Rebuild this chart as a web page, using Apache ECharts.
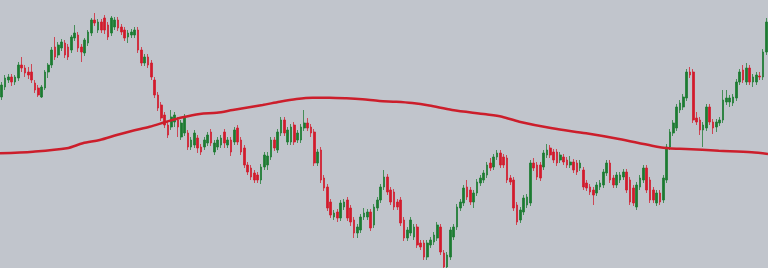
<!DOCTYPE html>
<html><head><meta charset="utf-8">
<script src="https://cdn.jsdelivr.net/npm/echarts@6/dist/echarts.min.js"></script>
<style>html,body{margin:0;padding:0;background:#c1c5cc;}#c{width:768px;height:268px;}</style>
</head><body><div id="c"></div>
<script>
const opens = [171,181,188,191,186,190,203,200,196,196,185,180,171,180,196,203,221,213,220,225,221,218,230,233,221,215,225,235,248,238,246,250,243,235,241,248,241,238,231,233,233,238,218,205,211,205,188,173,163,153,143,141,146,148,131,135,135,121,123,130,121,121,125,136,116,121,123,136,123,128,126,140,128,120,103,100,95,93,88,101,103,111,128,118,135,148,126,126,143,128,128,140,145,141,136,105,118,90,81,66,51,56,50,61,68,60,48,35,38,51,51,56,43,60,68,81,91,78,76,66,68,48,30,35,31,41,25,25,11,23,26,30,41,15,1,11,31,41,60,65,81,78,66,75,85,88,93,105,101,111,115,111,110,90,88,63,48,56,63,65,105,103,103,101,113,120,116,116,108,111,108,103,106,105,100,98,85,81,78,75,81,83,95,105,90,83,88,91,96,88,80,61,81,88,100,88,78,65,75,68,88,121,135,140,158,161,170,196,196,150,148,138,140,161,146,141,145,148,166,166,165,170,186,198,186,200,186,186,192,191,216];
const closes = [183,190,191,186,191,203,200,195,193,188,178,173,181,196,203,218,211,223,226,213,211,231,235,220,216,228,236,248,245,246,238,238,231,250,248,240,236,230,235,236,238,218,205,211,203,191,173,160,150,143,133,151,153,141,145,151,121,128,135,120,116,128,133,125,125,128,130,125,128,116,138,126,116,103,96,91,88,88,101,113,112,128,120,136,148,135,138,141,126,135,141,145,140,135,105,116,88,80,60,53,55,50,65,66,50,46,35,41,51,55,56,40,61,68,81,91,76,66,61,61,45,30,38,48,41,23,21,11,25,28,33,43,16,1,13,38,41,61,66,80,71,66,75,86,90,95,103,100,111,115,103,103,88,86,60,46,58,70,71,105,100,91,90,115,118,113,108,105,113,106,103,106,98,96,105,81,80,76,73,83,85,96,105,88,83,93,93,96,78,66,65,83,90,100,78,68,68,75,66,90,121,136,145,161,165,171,196,193,148,146,138,143,161,146,140,146,148,168,170,170,171,186,196,188,200,186,191,193,191,216,246];
const lows = [168,178,185,182,183,187,196,191,189,185,175,171,170,178,190,200,208,210,217,210,208,215,227,216,206,212,222,232,242,235,235,234,228,232,238,237,233,227,225,230,230,215,202,202,200,188,170,157,147,140,130,138,141,131,128,132,118,118,120,115,113,118,122,122,113,118,120,120,120,112,123,123,113,100,93,88,85,85,84,98,98,108,117,115,132,132,123,123,123,125,125,137,137,131,102,102,85,77,57,50,48,46,47,58,47,42,30,30,35,48,48,37,40,57,65,78,73,63,58,58,42,27,27,32,28,20,18,8,8,20,23,27,13,0,0,8,28,38,57,62,68,63,60,72,82,85,90,97,98,108,100,100,85,83,57,43,45,53,60,62,97,88,87,98,110,110,105,102,105,103,100,100,95,93,97,78,77,73,63,72,78,80,92,85,80,80,85,88,75,63,62,58,78,85,75,65,65,62,63,65,85,118,132,137,155,158,167,190,145,143,133,121,137,143,134,136,142,145,163,161,162,167,183,185,183,183,181,183,188,188,213];
const highs = [186,193,194,194,193,206,211,203,201,204,188,183,183,198,205,221,231,226,229,228,224,233,243,236,224,230,238,250,255,249,249,253,246,252,251,251,244,241,238,239,241,241,221,214,214,208,191,176,166,156,146,158,156,151,148,154,138,131,138,133,124,131,136,139,128,131,133,139,131,131,141,143,131,123,106,103,98,96,104,116,116,131,131,139,151,151,141,144,146,138,144,158,150,144,139,119,121,93,84,69,58,59,68,69,71,63,51,44,54,60,59,59,64,71,84,98,94,81,79,69,71,51,41,51,44,44,28,28,28,31,36,46,44,18,16,41,44,64,69,83,88,81,78,89,93,98,106,110,114,118,118,114,113,93,91,66,61,73,74,108,110,106,106,118,124,123,119,119,116,114,111,112,109,108,108,101,88,84,81,86,88,99,108,108,93,96,96,99,99,91,83,86,93,103,103,91,81,78,78,93,124,139,148,164,168,174,199,201,199,156,151,146,164,164,149,149,151,178,178,173,174,189,199,203,205,203,194,196,196,219,250];
// moving-average line: positions (in candle index units) and values
const maPos = [-0.5,9.4,19.6,24.4,29.5,34.6,39.4,44.5,49.6,54.5,59.6,64.7,69.5,78.5,83.6,88.7,93.5,98.6,103.7,108.5,113.6,118.7,123.5,128.6,135.5,145.7,150.5,155.7,165.6,175.8,185.7,195.6,200.7,205.8,215.7,225.6,230.5];
const maValues = [114.7,116.3,119.7,124.7,128,133,137.3,141.3,146.3,150.7,154,155.3,158,163,166.3,169,170.3,170.3,169.7,168.7,167,166.3,165,162.5,158,153.7,151.3,146.3,139.7,134.7,129,122.3,119.7,119,117.3,115.7,114];
const categories = opens.map((_, i) => 'D' + (i + 1));

const candleData = opens.map((o, i) => [o, closes[i], lows[i], highs[i]]);
const maData = maPos.map((p, k) => [p, maValues[k]]);

const chart = echarts.init(document.getElementById('c'), null, {renderer: 'canvas'});
chart.setOption({
  animation: false,
  backgroundColor: '#c1c5cc',
  grid: {left: 0, right: 0, top: 0, bottom: 0},
  xAxis: [
    {type: 'category', data: categories, boundaryGap: true, show: false},
    {type: 'value', min: -0.5, max: categories.length - 0.5, show: false, splitLine: {show: false}}
  ],
  yAxis: {type: 'value', min: 0, max: 268, show: false, splitLine: {show: false}},
  series: [
    {
      type: 'candlestick',
      data: candleData,
      barWidth: '65%',
      itemStyle: {
        color: '#1c7b31', color0: '#d21b2c',
        borderColor: 'rgba(28,123,49,0.75)', borderColor0: 'rgba(210,27,44,0.75)',
        borderWidth: 1
      }
    },
    {
      type: 'line',
      xAxisIndex: 1,
      data: maData,
      smooth: 0.3,
      showSymbol: false,
      symbol: 'none',
      clip: false,
      lineStyle: {color: '#cc1e2b', width: 2.5},
      z: 3
    }
  ]
});
</script>
</body></html>
